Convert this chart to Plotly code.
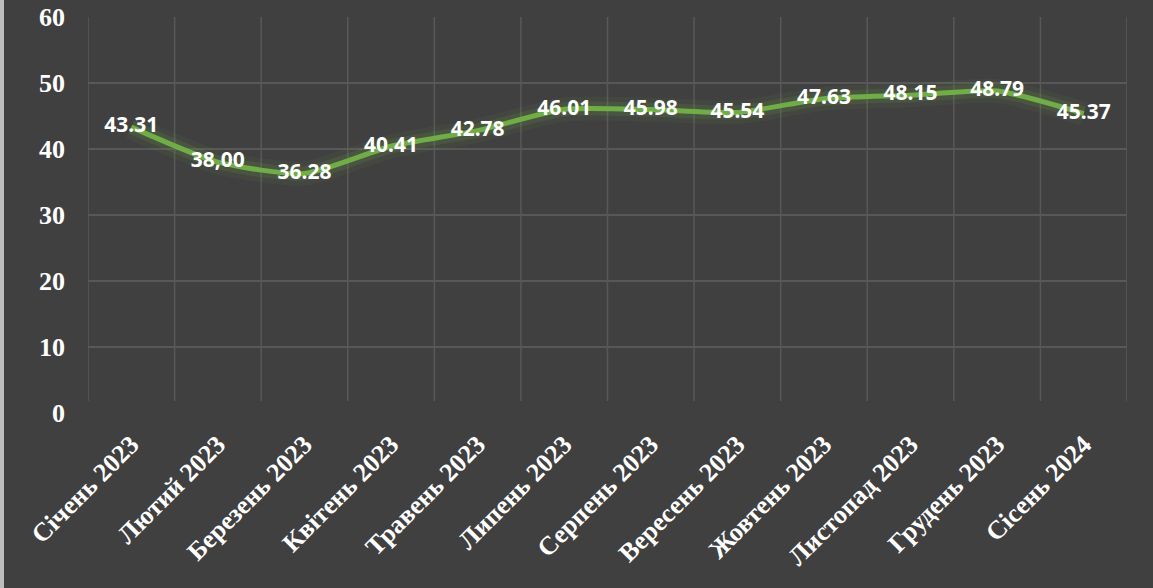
import plotly.graph_objects as go

# ── Data ──────────────────────────────────────────────────────────────────────
MONTHS = ["Січень 2023", "Лютий 2023", "Березень 2023", "Квітень 2023",
          "Травень 2023", "Липень 2023", "Серпень 2023", "Вересень 2023",
          "Жовтень 2023", "Листопад 2023", "Грудень 2023", "Сісень 2024"]
VALUES = [43.31, 38.00, 36.28, 40.41, 42.78, 46.01, 45.98, 45.54,
          47.63, 48.15, 48.79, 45.37]
LABELS = ["43.31", "38,00", "36.28", "40.41", "42.78", "46.01", "45.98",
          "45.54", "47.63", "48.15", "48.79", "45.37"]
Y_TICKS = [0, 10, 20, 30, 40, 50, 60]

# ── Style ─────────────────────────────────────────────────────────────────────
BG    = "#404040"
GREEN = "#70AD47"
GRID  = "#585858"
SERIF = "'Liberation Serif', 'Times New Roman', serif"
SANS  = "'Noto Sans', 'Open Sans', Arial, sans-serif"

W, H = 1153, 588
L, R, T, B = 88, 26, 17, 175
PW, PH = W - L - R, H - T - B

fig = go.Figure()

# soft glow under the line
for w, a in [(24, 0.07), (14, 0.14)]:
    fig.add_trace(go.Scatter(
        x=MONTHS, y=VALUES, mode="lines",
        line=dict(color=f"rgba(112,173,71,{a})", width=w, shape="spline", smoothing=0.6),
        hoverinfo="skip", showlegend=False,
    ))

fig.add_trace(go.Scatter(
    x=MONTHS, y=VALUES, mode="lines+text",
    line=dict(color=GREEN, width=5, shape="spline", smoothing=0.6),
    text=LABELS, textposition="middle center",
    textfont=dict(family=SANS, size=21, color="white", weight="bold"),
    showlegend=False,
))

fig.update_layout(
    width=W, height=H,
    plot_bgcolor=BG, paper_bgcolor=BG,
    margin=dict(l=L, r=R, t=T, b=B),
    xaxis=dict(
        showgrid=False, tickangle=-45, automargin=False,
        tickfont=dict(family=SERIF, size=26, color="white", weight="bold"),
        range=[-0.5, len(MONTHS) - 0.5], ticklabelstandoff=10,
        showline=False, zeroline=False, ticks="",
    ),
    yaxis=dict(
        range=[0, 60], tickvals=Y_TICKS, automargin=False,
        gridcolor=GRID, gridwidth=1.5, zeroline=False, showline=False,
        tickfont=dict(family=SERIF, size=26, color="white", weight="bold"),
        ticklabelstandoff=22,
    ),
    shapes=[
        # vertical grid lines between categories
        *[dict(type="line", xref="x", yref="paper",
               x0=i - 0.5, x1=i - 0.5, y0=0.03, y1=1,
               line=dict(color=GRID, width=1.5), layer="below")
          for i in range(len(MONTHS) + 1)],
        # light strip on the left border
        dict(type="rect", xref="paper", yref="paper",
             x0=-L / PW, x1=-(L - 4) / PW, y0=-B / PH, y1=1 + T / PH,
             line=dict(width=0), fillcolor="#BDBDBD"),
    ],
)

fig.write_html("out.html", config={"displayModeBar": False},
               post_script="document.body.style.margin='0';document.body.style.overflow='hidden';")
